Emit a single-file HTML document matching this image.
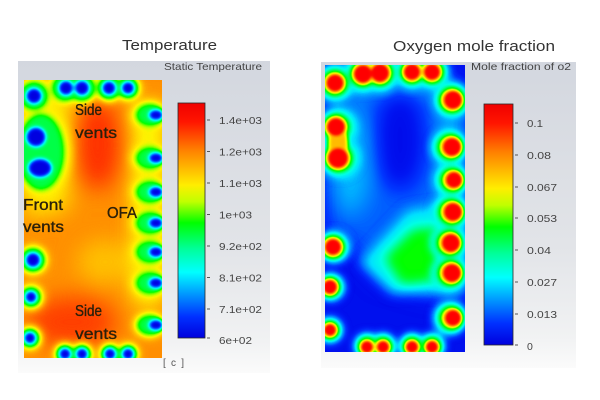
<!DOCTYPE html>
<html>
<head>
<meta charset="utf-8">
<style>
html,body{margin:0;padding:0;background:#ffffff;}
svg{display:block;}
text{font-family:"Liberation Sans",sans-serif;}
</style>
</head>
<body>
<svg width="600" height="400" viewBox="0 0 600 400" xmlns="http://www.w3.org/2000/svg">
<defs>
  <linearGradient id="pg" x1="0" y1="0" x2="0" y2="1">
    <stop offset="0" stop-color="#d3d7df"/>
    <stop offset="0.6" stop-color="#e2e4e8"/>
    <stop offset="0.9" stop-color="#f1f2f3"/>
    <stop offset="1" stop-color="#fbfbfb"/>
  </linearGradient>
  <linearGradient id="cb" x1="0" y1="0" x2="0" y2="1">
    <stop offset="0" stop-color="#f00000"/>
    <stop offset="0.08" stop-color="#ff1500"/>
    <stop offset="0.2" stop-color="#ff8000"/>
    <stop offset="0.35" stop-color="#ffee00"/>
    <stop offset="0.42" stop-color="#c0ff00"/>
    <stop offset="0.51" stop-color="#00ff00"/>
    <stop offset="0.62" stop-color="#00ff99"/>
    <stop offset="0.72" stop-color="#00ffff"/>
    <stop offset="0.82" stop-color="#0090ff"/>
    <stop offset="0.91" stop-color="#0030ff"/>
    <stop offset="1" stop-color="#0000dd"/>
  </linearGradient>
  <filter id="jet" color-interpolation-filters="sRGB" filterUnits="userSpaceOnUse" x="0" y="0" width="600" height="400">
    <feComponentTransfer>
      <feFuncR type="table" tableValues="0 0 0 0 0 0 0 0 0 0 0 0.45 0.75 1 1 1 1 1 1 1 1"/>
      <feFuncG type="table" tableValues="0 0.08 0.22 0.45 0.64 0.88 1 1 1 1 1 1 1 0.95 0.8 0.65 0.5 0.35 0.18 0.05 0"/>
      <feFuncB type="table" tableValues="0.88 0.95 1 1 1 1 0.9 0.67 0.43 0.19 0 0 0 0 0 0 0 0 0 0 0"/>
    </feComponentTransfer>
  </filter>
  <filter id="b12" x="-50%" y="-50%" width="200%" height="200%" color-interpolation-filters="sRGB"><feGaussianBlur stdDeviation="11"/></filter>
  <filter id="b6" x="-50%" y="-50%" width="200%" height="200%" color-interpolation-filters="sRGB"><feGaussianBlur stdDeviation="6"/></filter>
  <filter id="b4" x="-50%" y="-50%" width="200%" height="200%" color-interpolation-filters="sRGB"><feGaussianBlur stdDeviation="4"/></filter>
  <filter id="b3" x="-50%" y="-50%" width="200%" height="200%" color-interpolation-filters="sRGB"><feGaussianBlur stdDeviation="3"/></filter>
  <filter id="b2" x="-50%" y="-50%" width="200%" height="200%" color-interpolation-filters="sRGB"><feGaussianBlur stdDeviation="2"/></filter>
  <filter id="b15" x="-50%" y="-50%" width="200%" height="200%" color-interpolation-filters="sRGB"><feGaussianBlur stdDeviation="1.5"/></filter>
  <clipPath id="cT"><rect x="24" y="80" width="138" height="278"/></clipPath>
  <clipPath id="cO"><rect x="325" y="65" width="140" height="287"/></clipPath>
</defs>

<!-- panels -->
<rect x="18" y="61" width="252" height="312" fill="url(#pg)"/>
<rect x="321" y="62" width="255" height="306" fill="url(#pg)"/>

<!-- titles -->
<text x="122" y="50" font-size="15" fill="#333" textLength="95" lengthAdjust="spacingAndGlyphs">Temperature</text>
<text x="393" y="51" font-size="15" fill="#333" textLength="162" lengthAdjust="spacingAndGlyphs">Oxygen mole fraction</text>

<!-- Temperature field -->
<g clip-path="url(#cT)">
<g filter="url(#jet)">
  <rect x="24" y="80" width="138" height="278" fill="rgb(199,199,199)"/>
  <g filter="url(#b12)">
    <ellipse cx="98" cy="145" rx="24" ry="45" fill="rgb(228,228,228)"/>
    <ellipse cx="72" cy="322" rx="45" ry="26" fill="rgb(224,224,224)"/>
    <path d="M24 80 H72 L68 210 L24 218 Z" fill="rgb(168,168,168)"/>
    <ellipse cx="105" cy="262" rx="28" ry="22" fill="rgb(182,182,182)"/>
    <rect x="134" y="105" width="28" height="200" fill="rgb(158,158,158)"/>
  </g>
  <!-- yellow outer halos -->
  <g filter="url(#b4)" fill="rgb(166,166,166)">
    <circle cx="34" cy="96" r="19"/>
    <circle cx="65" cy="88" r="17"/>
    <circle cx="82" cy="88" r="17"/>
    <circle cx="109" cy="88" r="15"/>
    <circle cx="128" cy="88" r="14"/>
    <ellipse cx="42" cy="152" rx="30" ry="46"/>
    <circle cx="33" cy="260" r="16"/>
    <circle cx="31" cy="297" r="14"/>
    <circle cx="30" cy="338" r="13"/>
    <circle cx="65" cy="354" r="12"/>
    <circle cx="82" cy="354" r="12"/>
    <circle cx="110" cy="354" r="12"/>
    <circle cx="128" cy="354" r="12"/>
    <ellipse cx="149" cy="115" rx="19" ry="15"/>
    <ellipse cx="149" cy="158" rx="19" ry="15"/>
    <ellipse cx="149" cy="192" rx="19" ry="15"/>
    <ellipse cx="149" cy="223" rx="19" ry="15"/>
    <ellipse cx="149" cy="252" rx="19" ry="15"/>
    <ellipse cx="149" cy="283" rx="19" ry="15"/>
    <ellipse cx="149" cy="325" rx="17" ry="14"/>
  </g>
  <!-- green halos -->
  <g filter="url(#b3)" fill="rgb(110,110,110)">
    <circle cx="34" cy="96" r="14"/>
    <circle cx="65" cy="88" r="13"/>
    <circle cx="82" cy="88" r="13"/>
    <circle cx="109" cy="88" r="11.5"/>
    <circle cx="128" cy="88" r="10.5"/>
    <ellipse cx="41" cy="152" rx="23" ry="38"/>
    <circle cx="33" cy="260" r="12"/>
    <circle cx="31" cy="297" r="10"/>
    <circle cx="30" cy="338" r="9.5"/>
    <circle cx="65" cy="354" r="9"/>
    <circle cx="82" cy="354" r="9"/>
    <circle cx="110" cy="354" r="9"/>
    <circle cx="128" cy="354" r="9"/>
    <ellipse cx="150" cy="115" rx="14" ry="11"/>
    <ellipse cx="150" cy="158" rx="14" ry="11"/>
    <ellipse cx="150" cy="192" rx="14" ry="11"/>
    <ellipse cx="150" cy="223" rx="14" ry="11"/>
    <ellipse cx="150" cy="252" rx="14" ry="11"/>
    <ellipse cx="150" cy="283" rx="14" ry="11"/>
    <ellipse cx="150" cy="325" rx="13" ry="10"/>
  </g>
  <!-- blue cores -->
  <g filter="url(#b2)" fill="#000">
    <circle cx="34" cy="96" r="7.5"/>
    <circle cx="66" cy="88" r="7"/>
    <circle cx="82" cy="88" r="7"/>
    <circle cx="109" cy="88" r="6.5"/>
    <circle cx="128" cy="88" r="6"/>
    <circle cx="36" cy="137" r="9.5"/>
    <ellipse cx="40" cy="168" rx="11.5" ry="9"/>
    <circle cx="33" cy="260" r="7"/>
    <circle cx="31" cy="297" r="5.5"/>
    <circle cx="30" cy="338" r="5.5"/>
    <circle cx="65" cy="354" r="5.5"/>
    <circle cx="82" cy="354" r="5.5"/>
    <circle cx="110" cy="354" r="5.5"/>
    <circle cx="128" cy="354" r="5.5"/>
    <ellipse cx="156" cy="115" rx="7" ry="5"/>
    <ellipse cx="156" cy="158" rx="7" ry="5"/>
    <ellipse cx="156" cy="192" rx="7" ry="5"/>
    <ellipse cx="156" cy="223" rx="7" ry="5"/>
    <ellipse cx="156" cy="252" rx="7" ry="5"/>
    <ellipse cx="156" cy="283" rx="7" ry="5"/>
    <ellipse cx="156" cy="325" rx="7" ry="5"/>
  </g>
</g>
</g>

<!-- labels on temperature field -->
<g font-size="15.5" fill="#2a200a" stroke="#2a200a" stroke-width="0.35">
  <text x="75" y="115" textLength="27" lengthAdjust="spacingAndGlyphs">Side</text>
  <text x="75" y="138" textLength="42" lengthAdjust="spacingAndGlyphs">vents</text>
  <text x="23" y="210" textLength="40" lengthAdjust="spacingAndGlyphs">Front</text>
  <text x="23" y="232" textLength="41" lengthAdjust="spacingAndGlyphs">vents</text>
  <text x="107" y="218" textLength="30" lengthAdjust="spacingAndGlyphs">OFA</text>
  <text x="75" y="316" textLength="27" lengthAdjust="spacingAndGlyphs">Side</text>
  <text x="75" y="339" textLength="42" lengthAdjust="spacingAndGlyphs">vents</text>
</g>

<!-- O2 field -->
<g clip-path="url(#cO)">
<g filter="url(#jet)">
  <rect x="325" y="65" width="140" height="287" fill="rgb(10,10,10)"/>
  <g filter="url(#b12)">
    <path d="M325 85 H465 V300 L420 292 L380 280 L345 240 L325 232 Z" fill="rgb(34,34,34)"/>
    <ellipse cx="350" cy="160" rx="22" ry="55" fill="rgb(56,56,56)"/>
    <rect x="340" y="70" width="105" height="20" fill="rgb(56,56,56)"/>
    <rect x="440" y="90" width="25" height="200" fill="rgb(56,56,56)"/>
    <ellipse cx="400" cy="140" rx="24" ry="50" fill="rgb(8,8,8)"/>
  </g>
  <g filter="url(#b6)">
    <path d="M360 262 L408 210 L462 203 L462 292 L392 294 Z" fill="rgb(71,71,71)"/>
    <path d="M385 258 L413 230 L452 226 L455 278 L402 284 Z" fill="rgb(128,128,128)"/>
  </g>
  <!-- cyan halos -->
  <g filter="url(#b4)" fill="rgb(72,72,72)">
    <circle cx="335" cy="83" r="20"/>
    <circle cx="363" cy="74" r="20"/>
    <circle cx="380" cy="73" r="20"/>
    <circle cx="412" cy="72" r="18"/>
    <circle cx="432" cy="72" r="18"/>
    <circle cx="452" cy="100" r="19"/>
    <circle cx="338" cy="127" r="20"/>
    <circle cx="340" cy="158" r="21"/>
    <circle cx="449" cy="147" r="19"/>
    <circle cx="451" cy="180" r="18"/>
    <circle cx="450" cy="212" r="19"/>
    <circle cx="448" cy="243" r="19"/>
    <circle cx="449" cy="273" r="19"/>
    <circle cx="450" cy="318" r="18"/>
    <circle cx="334" cy="247" r="17"/>
    <circle cx="331" cy="287" r="15"/>
    <circle cx="330" cy="330" r="14"/>
    <circle cx="367" cy="346" r="14"/>
    <circle cx="383" cy="346" r="14"/>
    <circle cx="412" cy="346" r="14"/>
    <circle cx="432" cy="346" r="14"/>
  </g>
  <!-- green halos -->
  <g filter="url(#b3)" fill="rgb(118,118,118)">
    <circle cx="335" cy="83" r="14"/>
    <circle cx="363" cy="74" r="14"/>
    <circle cx="380" cy="73" r="14"/>
    <circle cx="412" cy="72" r="12.5"/>
    <circle cx="432" cy="72" r="12.5"/>
    <circle cx="452" cy="100" r="14"/>
    <circle cx="337" cy="127" r="14"/>
    <circle cx="339" cy="158" r="15"/>
    <circle cx="450" cy="147" r="14"/>
    <circle cx="452" cy="180" r="13"/>
    <circle cx="451" cy="212" r="14"/>
    <circle cx="449" cy="243" r="14"/>
    <circle cx="450" cy="273" r="14"/>
    <circle cx="451" cy="318" r="13"/>
    <circle cx="333" cy="247" r="12.5"/>
    <circle cx="330" cy="287" r="11"/>
    <circle cx="330" cy="330" r="10"/>
    <circle cx="367" cy="346" r="10"/>
    <circle cx="383" cy="346" r="10"/>
    <circle cx="412" cy="346" r="10"/>
    <circle cx="432" cy="346" r="10"/>
  </g>
  <!-- yellow rings -->
  <g filter="url(#b2)" fill="rgb(184,184,184)">
    <ellipse cx="338" cy="143" rx="10" ry="16"/>
    <circle cx="335" cy="83" r="10.5"/>
    <circle cx="363" cy="74" r="11"/>
    <circle cx="380" cy="73" r="11"/>
    <circle cx="412" cy="72" r="10"/>
    <circle cx="432" cy="72" r="10"/>
    <circle cx="452" cy="100" r="11"/>
    <circle cx="336" cy="127" r="11"/>
    <circle cx="338" cy="158" r="12"/>
    <circle cx="451" cy="147" r="11"/>
    <circle cx="453" cy="180" r="10"/>
    <circle cx="452" cy="212" r="11"/>
    <circle cx="450" cy="243" r="11"/>
    <circle cx="451" cy="273" r="11"/>
    <circle cx="452" cy="318" r="10"/>
    <circle cx="333" cy="247" r="10"/>
    <circle cx="330" cy="287" r="8.5"/>
    <circle cx="330" cy="330" r="7.5"/>
    <circle cx="367" cy="347" r="7.5"/>
    <circle cx="383" cy="347" r="7.5"/>
    <circle cx="412" cy="347" r="7.5"/>
    <circle cx="432" cy="347" r="7.5"/>
  </g>
  <!-- red cores -->
  <g filter="url(#b15)" fill="#fff">
    <circle cx="335" cy="83" r="8"/>
    <circle cx="363" cy="74" r="8.5"/>
    <circle cx="380" cy="73" r="8.5"/>
    <circle cx="412" cy="72" r="7.5"/>
    <circle cx="432" cy="72" r="7.5"/>
    <circle cx="453" cy="100" r="8.5"/>
    <circle cx="336" cy="127" r="8.5"/>
    <circle cx="338" cy="158" r="9.5"/>
    <circle cx="452" cy="147" r="8.5"/>
    <circle cx="454" cy="180" r="7.5"/>
    <circle cx="453" cy="212" r="8.5"/>
    <circle cx="451" cy="243" r="8.5"/>
    <circle cx="452" cy="273" r="8.5"/>
    <circle cx="453" cy="318" r="7.5"/>
    <circle cx="333" cy="247" r="7.5"/>
    <circle cx="330" cy="287" r="6.5"/>
    <circle cx="330" cy="330" r="5.5"/>
    <circle cx="367" cy="347" r="5.5"/>
    <circle cx="383" cy="347" r="5.5"/>
    <circle cx="412" cy="347" r="5.5"/>
    <circle cx="432" cy="347" r="5.5"/>
  </g>
</g>
</g>

<!-- colorbars -->
<rect x="178" y="103" width="27" height="235" fill="url(#cb)" stroke="#2a2a2a" stroke-width="0.8"/>
<rect x="484" y="104" width="29" height="241" fill="url(#cb)" stroke="#2a2a2a" stroke-width="0.8"/>

<!-- legend titles -->
<text x="164" y="70" font-size="10.5" fill="#444" textLength="98" lengthAdjust="spacingAndGlyphs">Static Temperature</text>
<text x="471" y="70" font-size="10.5" fill="#444" textLength="100" lengthAdjust="spacingAndGlyphs">Mole fraction of o2</text>

<!-- ticks -->
<g stroke="#555" stroke-width="1">
  <line x1="207" y1="120" x2="210" y2="120"/>
  <line x1="207" y1="151.5" x2="210" y2="151.5"/>
  <line x1="207" y1="183" x2="210" y2="183"/>
  <line x1="207" y1="214.5" x2="210" y2="214.5"/>
  <line x1="207" y1="246" x2="210" y2="246"/>
  <line x1="207" y1="277.5" x2="210" y2="277.5"/>
  <line x1="207" y1="309" x2="210" y2="309"/>
  <line x1="207" y1="338" x2="210" y2="338"/>
  <line x1="515" y1="123" x2="518" y2="123"/>
  <line x1="515" y1="155" x2="518" y2="155"/>
  <line x1="515" y1="187" x2="518" y2="187"/>
  <line x1="515" y1="218" x2="518" y2="218"/>
  <line x1="515" y1="250" x2="518" y2="250"/>
  <line x1="515" y1="282" x2="518" y2="282"/>
  <line x1="515" y1="314" x2="518" y2="314"/>
  <line x1="515" y1="345" x2="518" y2="345"/>
</g>

<!-- tick labels -->
<g font-size="10.5" fill="#444">
  <text x="219" y="124" textLength="43" lengthAdjust="spacingAndGlyphs">1.4e+03</text>
  <text x="219" y="155.5" textLength="43" lengthAdjust="spacingAndGlyphs">1.2e+03</text>
  <text x="219" y="187" textLength="43" lengthAdjust="spacingAndGlyphs">1.1e+03</text>
  <text x="219" y="218.5" textLength="33" lengthAdjust="spacingAndGlyphs">1e+03</text>
  <text x="219" y="250" textLength="43" lengthAdjust="spacingAndGlyphs">9.2e+02</text>
  <text x="219" y="281.5" textLength="43" lengthAdjust="spacingAndGlyphs">8.1e+02</text>
  <text x="219" y="313" textLength="43" lengthAdjust="spacingAndGlyphs">7.1e+02</text>
  <text x="219" y="344" textLength="33" lengthAdjust="spacingAndGlyphs">6e+02</text>

  <text x="527" y="127" textLength="16" lengthAdjust="spacingAndGlyphs">0.1</text>
  <text x="527" y="159" textLength="24" lengthAdjust="spacingAndGlyphs">0.08</text>
  <text x="527" y="191" textLength="30" lengthAdjust="spacingAndGlyphs">0.067</text>
  <text x="527" y="222" textLength="30" lengthAdjust="spacingAndGlyphs">0.053</text>
  <text x="527" y="254" textLength="24" lengthAdjust="spacingAndGlyphs">0.04</text>
  <text x="527" y="286" textLength="30" lengthAdjust="spacingAndGlyphs">0.027</text>
  <text x="527" y="318" textLength="30" lengthAdjust="spacingAndGlyphs">0.013</text>
  <text x="527" y="350">0</text>
</g>

<text x="163" y="366" font-size="10" fill="#555" textLength="21" lengthAdjust="spacing">[ c ]</text>
</svg>
</body>
</html>
